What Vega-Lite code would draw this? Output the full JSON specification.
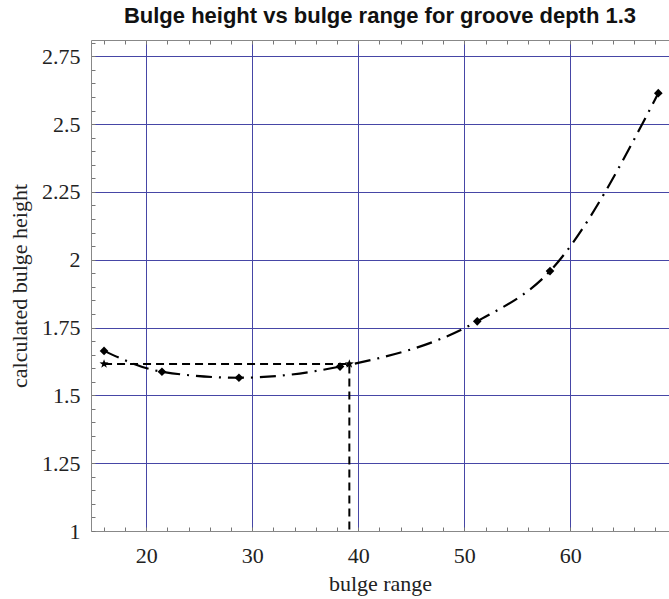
{
  "$schema": "https://vega.github.io/schema/vega-lite/v6.json",
  "width": 578,
  "height": 491,
  "autosize": "none",
  "padding": {"left": 91, "top": 40, "right": 0, "bottom": 68},
  "background": "white",
  "config": {"view": {"stroke": null}},
  "title": {
    "text": "Bulge height vs bulge range for groove depth 1.3",
    "font": "Liberation Sans",
    "fontSize": 22,
    "fontWeight": "bold",
    "color": "#111",
    "anchor": "middle",
    "baseline": "alphabetic",
    "offset": -13
  },
  "datasets": {
    "curve": [
      {"range": 16.03, "height": 1.664},
      {"range": 21.49, "height": 1.587},
      {"range": 28.75, "height": 1.565},
      {"range": 38.28, "height": 1.606},
      {"range": 51.22, "height": 1.773},
      {"range": 58.08, "height": 1.958},
      {"range": 68.29, "height": 2.614}
    ],
    "level": [
      {"range": 16.03, "height": 1.616, "step": 1},
      {"range": 39.16, "height": 1.616, "step": 2},
      {"range": 39.16, "height": 1.0, "step": 3}
    ],
    "stars": [
      {"range": 16.03, "height": 1.616},
      {"range": 39.16, "height": 1.616}
    ]
  },
  "resolve": {"axis": {"x": "independent", "y": "independent"}},
  "layer": [
    {
      "data": {"name": "curve"},
      "mark": {"type": "line", "interpolate": "monotone", "color": "black", "strokeWidth": 2.2, "strokeDash": [16, 7, 2, 7]},
      "encoding": {
        "x": {
          "field": "range", "type": "quantitative",
          "scale": {"domain": [14.8, 69.3], "nice": false, "zero": false},
          "axis": {
            "orient": "bottom",
            "values": [16,18,20,22,24,26,28,30,32,34,36,38,40,42,44,46,48,50,52,54,56,58,60,62,64,66,68],
            "tickSize": -4, "tickColor": "#777", "tickWidth": 1,
            "domainColor": "#888", "domainWidth": 1,
            "grid": true, "gridColor": "#4646a6", "gridWidth": 1,
            "gridOpacity": {"condition": {"test": "datum.value % 10 === 0", "value": 1}, "value": 0},
            "labelExpr": "datum.value % 10 === 0 ? datum.label : ''",
            "labelOverlap": false,
            "labelFont": "Liberation Serif", "labelFontSize": 22, "labelColor": "#222",
            "labelPadding": 18,
            "title": "bulge range",
            "titleFont": "Liberation Serif", "titleFontSize": 22, "titleFontWeight": "normal", "titleColor": "#222",
            "titlePadding": 7
          }
        },
        "y": {
          "field": "height", "type": "quantitative",
          "scale": {"domain": [1, 2.81], "nice": false, "zero": false},
          "axis": {
            "orient": "left",
            "values": [1,1.05,1.1,1.15,1.2,1.25,1.3,1.35,1.4,1.45,1.5,1.55,1.6,1.65,1.7,1.75,1.8,1.85,1.9,1.95,2,2.05,2.1,2.15,2.2,2.25,2.3,2.35,2.4,2.45,2.5,2.55,2.6,2.65,2.7,2.75,2.8],
            "tickSize": -4, "tickColor": "#777", "tickWidth": 1,
            "domainColor": "#888", "domainWidth": 1,
            "grid": true, "gridColor": "#4646a6", "gridWidth": 1,
            "gridOpacity": {"condition": {"test": "datum.value > 1.01 && abs(datum.value*4 - round(datum.value*4)) < 0.001", "value": 1}, "value": 0},
            "labelExpr": "abs(datum.value*4 - round(datum.value*4)) < 0.001 ? '' + datum.value : ''",
            "labelOverlap": false,
            "labelFont": "Liberation Serif", "labelFontSize": 22, "labelColor": "#222",
            "labelPadding": 15,
            "title": "calculated bulge height",
            "titleFont": "Liberation Serif", "titleFontSize": 22, "titleFontWeight": "normal", "titleColor": "#222",
            "titlePadding": 10
          }
        }
      }
    },
    {
      "data": {"name": "curve"},
      "mark": {"type": "point", "shape": "diamond", "filled": true, "color": "black", "size": 75, "opacity": 1},
      "encoding": {
        "x": {
          "field": "range", "type": "quantitative",
          "scale": {"domain": [14.8, 69.3], "nice": false, "zero": false},
          "axis": {
            "orient": "top",
            "values": [16,18,20,22,24,26,28,30,32,34,36,38,40,42,44,46,48,50,52,54,56,58,60,62,64,66,68],
            "tickSize": -4, "tickColor": "#777", "tickWidth": 1,
            "domainColor": "#888", "domainWidth": 1,
            "grid": false, "labels": false, "title": null
          }
        },
        "y": {
          "field": "height", "type": "quantitative",
          "scale": {"domain": [1, 2.81], "nice": false, "zero": false},
          "axis": null
        }
      }
    },
    {
      "data": {"name": "level"},
      "mark": {"type": "line", "color": "black", "strokeWidth": 2, "strokeDash": [8, 5]},
      "encoding": {
        "x": {"field": "range", "type": "quantitative", "scale": {"domain": [14.8, 69.3], "nice": false, "zero": false}, "axis": null},
        "y": {"field": "height", "type": "quantitative", "scale": {"domain": [1, 2.81], "nice": false, "zero": false}, "axis": null},
        "order": {"field": "step", "type": "quantitative"}
      }
    },
    {
      "data": {"name": "stars"},
      "mark": {"type": "point", "shape": "M0,-1L0.235,-0.324L0.951,-0.309L0.38,0.124L0.588,0.809L0,0.4L-0.588,0.809L-0.38,0.124L-0.951,-0.309L-0.235,-0.324Z", "filled": true, "color": "black", "size": 90, "opacity": 1},
      "encoding": {
        "x": {"field": "range", "type": "quantitative", "scale": {"domain": [14.8, 69.3], "nice": false, "zero": false}, "axis": null},
        "y": {"field": "height", "type": "quantitative", "scale": {"domain": [1, 2.81], "nice": false, "zero": false}, "axis": null}
      }
    }
  ]
}
